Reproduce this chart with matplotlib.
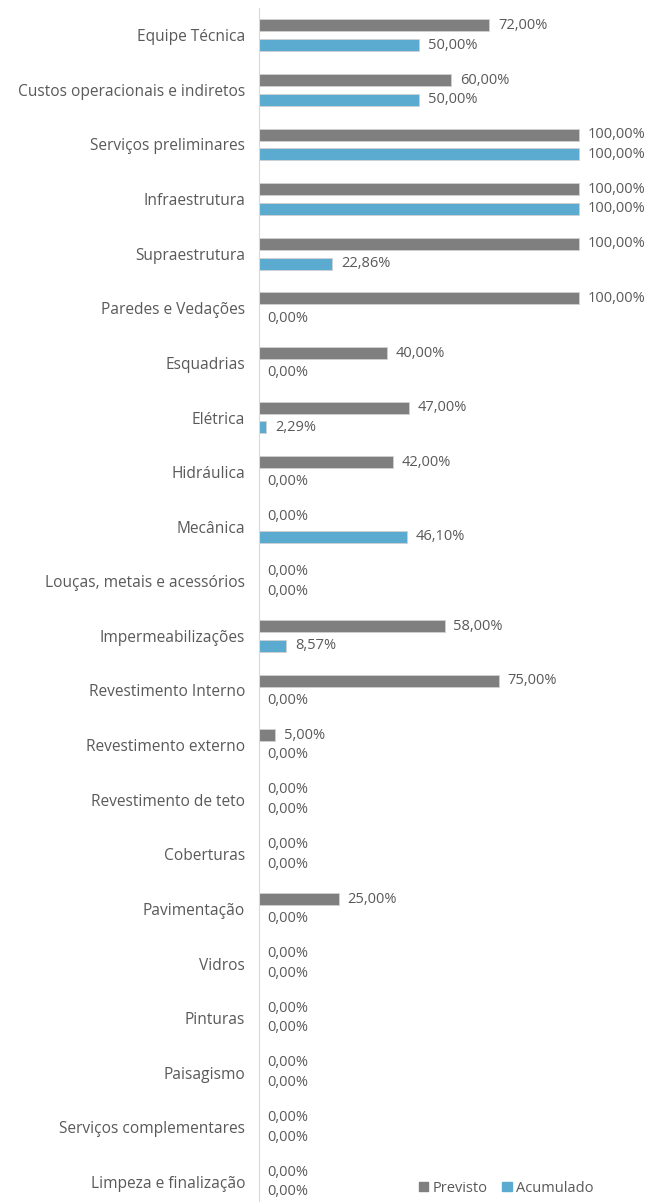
import matplotlib.pyplot as plt
import numpy as np
from matplotlib.patches import Patch

categorias = ['Equipe Técnica', 'Custos operacionais e indiretos', 'Serviços preliminares',
              'Infraestrutura', 'Supraestrutura', 'Paredes e Vedações', 'Esquadrias', 'Elétrica',
              'Hidráulica', 'Mecânica', 'Louças, metais e acessórios', 'Impermeabilizações',
              'Revestimento Interno', 'Revestimento externo', 'Revestimento de teto', 'Coberturas',
              'Pavimentação', 'Vidros', 'Pinturas', 'Paisagismo', 'Serviços complementares',
              'Limpeza e finalização']
previsto = [72, 60, 100, 100, 100, 100, 40, 47, 42, 0, 0, 58, 75, 5, 0, 0, 25, 0, 0, 0, 0, 0]
acumulado = [50, 50, 100, 100, 22.86, 0, 0, 2.29, 0, 46.10, 0, 8.57, 0, 0, 0, 0, 0, 0, 0, 0, 0, 0]

cor_prev = '#7f7f7f'
cor_acum = '#5aabcf'
cor_texto = '#595959'

plt.rcParams['font.family'] = ['Open Sans', 'DejaVu Sans']

fig = plt.figure(figsize=(6.59, 12.02), dpi=100)
ax = fig.add_axes([259 / 659, 0, 400 / 659, 1 - 8 / 1202])

y = np.arange(len(categorias))
h = 0.22
off = 0.18
ax.barh(y - off, np.array(previsto) / 100, height=h, color=cor_prev, edgecolor='#d0d0d0', linewidth=0.6)
ax.barh(y + off, np.array(acumulado) / 100, height=h, color=cor_acum, edgecolor='#d0d0d0', linewidth=0.6)

def fmt(v):
    return f'{v:.2f}'.replace('.', ',') + '%'

for i in range(len(categorias)):
    ax.text(previsto[i] / 100 + 0.027, y[i] - off, fmt(previsto[i]), va='center', ha='left',
            fontsize=10.5, color=cor_texto)
    ax.text(acumulado[i] / 100 + 0.027, y[i] + off, fmt(acumulado[i]), va='center', ha='left',
            fontsize=10.5, color=cor_texto)

ax.set_xlim(0, 400 / 320)
ax.set_ylim(-0.5 + 1194 / 54.6, -0.5)
ax.set_yticks(y)
ax.set_yticklabels(categorias, fontsize=11.2, color=cor_texto)
ax.tick_params(axis='y', length=0, pad=10)
ax.set_xticks([])
for s in ['top', 'right', 'bottom']:
    ax.spines[s].set_visible(False)
ax.spines['left'].set_color('#d9d9d9')

handles = [Patch(color=cor_prev, label='Previsto'), Patch(color=cor_acum, label='Acumulado')]
fig.legend(handles=handles, loc='center', bbox_to_anchor=(506 / 659, 1 - 1188 / 1202), ncol=2,
           frameon=False, fontsize=10.5, labelcolor=cor_texto, handlelength=0.65, handleheight=0.65,
           handletextpad=0.3, columnspacing=1.0)

fig.savefig('out.png', dpi=100)
